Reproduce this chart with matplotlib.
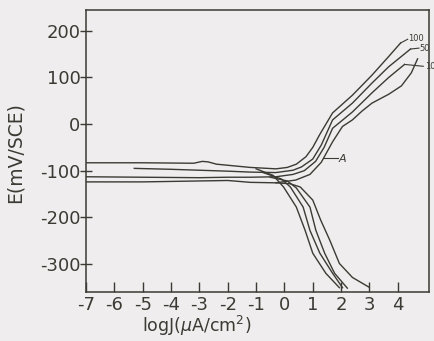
import matplotlib
matplotlib.use("Agg")
import matplotlib.pyplot as plt

plt.rcParams["axes.unicode_minus"] = False

# anodic branches (with the flat part near Ecorr), logJ vs E (mV/SCE)
a100_x = [-7, -5, -3.2, -2.9, -2.7, -2.4, -1.2, -0.3, 0.1, 0.42, 0.76, 1.0, 1.25, 1.7, 2.4, 3.09, 3.68, 4.1]
a100_y = [-83, -83, -84, -80, -81, -86, -93, -96, -93, -86, -70, -50, -22, 24, 62, 105, 145, 174]
a50_x = [-5.3, -4, -3, -2, -1.2, -0.3, 0.3, 0.6, 1.0, 1.3, 1.7, 2.4, 3.09, 3.68, 4.45]
a50_y = [-95, -97, -99, -101, -103, -104, -99, -92, -75, -45, 9, 45, 88, 123, 161]
a10_x = [-7, -5, -3, -2, -1.2, -0.3, 0.3, 0.7, 1.1, 1.4, 1.7, 2.4, 3.09, 3.68, 4.24]
a10_y = [-113, -114, -115, -114, -114, -113, -108, -100, -80, -50, -9, 26, 67, 100, 128]
aA_x = [-7, -5, -3, -2, -1.2, -0.3, 0.4, 0.9, 1.3, 1.7, 2.05, 2.4, 2.74, 3.09, 3.68, 4.13, 4.48, 4.7]
aA_y = [-124, -124, -122, -121, -125, -126, -120, -108, -82, -38, -5, 9, 28, 45, 64, 82, 110, 140]

# cathodic branches
c1_x = [-1.0, -0.4, -0.03, 0.42, 0.73, 1.0, 1.46, 1.94]
c1_y = [-96, -110, -135, -178, -228, -277, -320, -351]
c2_x = [-0.8, -0.1, 0.21, 0.66, 0.9, 1.25, 1.7, 2.05]
c2_y = [-103, -118, -135, -178, -228, -277, -320, -351]
c3_x = [-0.5, 0.1, 0.42, 0.9, 1.11, 1.42, 1.77, 2.22]
c3_y = [-114, -122, -137, -178, -228, -277, -320, -352]
c4_x = [-0.3, 0.2, 0.56, 1.0, 1.28, 1.6, 1.94, 2.4, 2.99]
c4_y = [-126, -128, -135, -163, -206, -249, -299, -329, -350]

xticks = [-7, -6, -5, -4, -3, -2, -1, 0, 1, 2, 3, 4]
yticks = [-300, -200, -100, 0, 100, 200]

ink = "#3b3a33"
paper = "#efedee"

fig = plt.figure(figsize=(4.35, 3.41), dpi=100, facecolor=paper)
ax = fig.add_axes([0.198, 0.144, 0.788, 0.827], facecolor=paper)

for xs, ys in [(a100_x, a100_y), (a50_x, a50_y), (a10_x, a10_y), (aA_x, aA_y),
               (c1_x, c1_y), (c2_x, c2_y), (c3_x, c3_y), (c4_x, c4_y)]:
    ax.plot(xs, ys, color=ink, lw=1.0)

# curve labels
ax.plot([4.1, 4.35], [174, 182], color=ink, lw=0.8)
ax.text(4.35, 183, "100", fontsize=6, color=ink, va="center")
ax.plot([4.45, 4.75], [161, 163], color=ink, lw=0.8)
ax.text(4.75, 163, "50", fontsize=6, color=ink, va="center")
ax.plot([4.24, 4.9], [128, 124], color=ink, lw=0.8)
ax.text(4.95, 124, "10", fontsize=6, color=ink, va="center", clip_on=False)
ax.plot([1.35, 1.9], [-72, -72], color=ink, lw=0.8)
ax.text(1.9, -74, "A", fontsize=8, color=ink, va="center", style="italic")

ax.set_xlim(-7, 5.1)
ax.set_ylim(-360, 245)
ax.set_xticks(xticks)
ax.set_yticks(yticks)
ax.tick_params(axis="x", direction="in", length=7, width=1, color=ink, labelsize=13, labelcolor=ink, pad=3)
ax.tick_params(axis="y", direction="inout", length=8, width=1, color=ink, labelsize=13, labelcolor=ink, pad=0)
for s in ax.spines.values():
    s.set_color(ink)
    s.set_linewidth(1.1)

fig.text(0.035, 0.554, "E(mV/SCE)", rotation=90, fontsize=13.5, color=ink, ha="center", va="center")
fig.text(0.453, 0.008, r"logJ($\mu$A/cm$^2$)", fontsize=12.5, color=ink, ha="center", va="bottom")

fig.savefig("out.png", dpi=100, facecolor=paper)
